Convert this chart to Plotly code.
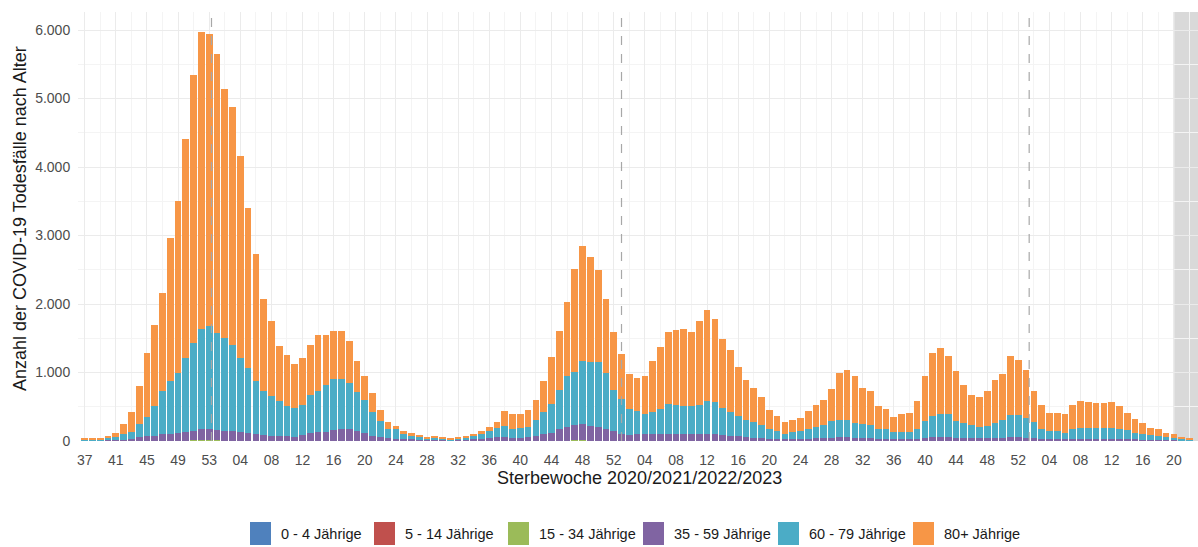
import plotly.graph_objects as go

# ---------------- categories (death weeks) ----------------
weeks_2020 = list(range(37, 54))
weeks_2021 = list(range(1, 53))
weeks_2022 = list(range(1, 53))
weeks_2023 = list(range(1, 23))
week_labels = [f"{w:02d}" for w in weeks_2020 + weeks_2021 + weeks_2022 + weeks_2023]
x_idx = list(range(len(week_labels)))

# ---------------- series values (deaths per week) ----------------
age_0_4 = [
    0, 0, 0, 0, 0, 0, 0, 0, 0, 0, 0, 0, 0, 0, 0, 1, 0,
    0, 0, 0, 0, 0, 0, 0, 0, 0, 0, 0, 0, 0, 0, 0, 0, 0, 0,
    0, 0, 0, 0, 0, 0, 0, 0, 0, 0, 0, 0, 0, 0, 0, 0, 0, 0, 0,
    0, 0, 0, 0, 0, 0, 0, 0, 0, 0, 1, 0, 0, 0, 0, 0, 0,
    0, 0, 0, 0, 0, 0, 0, 0, 0, 0, 0, 0, 0, 0, 0, 0, 0, 0,
    0, 0, 0, 0, 0, 0, 0, 0, 0, 0, 0, 0, 0, 0, 0, 0, 0, 0,
    0, 0, 0, 0, 0, 0, 0, 0, 0, 0, 0, 0, 0, 0, 0, 0, 0, 0,
    0, 0, 0, 0, 0, 0, 0, 0, 0, 0, 0, 0, 0, 0, 0, 0, 0, 0,
]
age_5_14 = [
    0, 0, 0, 0, 0, 0, 0, 0, 0, 0, 0, 0, 0, 0, 0, 0, 1,
    0, 0, 0, 0, 0, 0, 0, 0, 0, 0, 0, 0, 0, 0, 0, 0, 0, 0,
    0, 0, 0, 0, 0, 0, 0, 0, 0, 0, 0, 0, 0, 0, 0, 0, 0, 0, 0,
    0, 0, 0, 0, 0, 0, 0, 0, 0, 1, 0, 0, 0, 0, 0, 0, 0,
    0, 0, 0, 0, 0, 0, 0, 0, 0, 0, 0, 0, 0, 0, 0, 0, 0, 0,
    0, 0, 0, 0, 0, 0, 0, 0, 0, 0, 0, 0, 0, 0, 0, 0, 0, 0,
    0, 0, 1, 0, 0, 0, 0, 0, 0, 0, 0, 0, 0, 0, 0, 0, 0, 0,
    0, 0, 0, 0, 0, 0, 0, 0, 0, 0, 0, 0, 0, 0, 0, 0, 0, 0,
]
age_15_34 = [
    0, 0, 0, 1, 1, 1, 1, 2, 3, 3, 4, 5, 6, 7, 8, 8, 8,
    8, 7, 6, 5, 4, 4, 3, 3, 2, 2, 2, 3, 4, 4, 4, 5, 5, 5,
    4, 3, 2, 2, 1, 1, 1, 0, 0, 0, 0, 0, 0, 0, 1, 1, 1, 2, 2,
    2, 2, 2, 2, 3, 3, 4, 5, 6, 7, 7, 7, 6, 5, 4, 3, 3,
    3, 3, 3, 3, 3, 3, 3, 3, 3, 3, 3, 3, 2, 2, 2, 2, 1, 1,
    1, 1, 1, 1, 1, 1, 2, 2, 2, 2, 1, 1, 1, 1, 1, 1, 1, 1,
    1, 1, 2, 2, 2, 1, 1, 1, 1, 1, 1, 2, 2, 2, 2, 1, 1, 1,
    1, 1, 1, 1, 1, 1, 1, 1, 1, 1, 1, 1, 0, 0, 0, 0, 0, 0,
]
age_35_59 = [
    5, 6, 8, 9, 14, 19, 29, 53, 67, 72, 91, 95, 104, 128, 145, 160, 169,
    152, 143, 134, 120, 106, 91, 82, 77, 68, 68, 63, 82, 116, 131, 131, 155, 165, 172,
    149, 116, 78, 59, 46, 31, 24, 22, 20, 15, 18, 15, 12, 15, 17, 24, 31, 45, 59,
    59, 45, 45, 59, 67, 92, 115, 163, 201, 219, 233, 219, 201, 163, 139, 106, 87,
    92, 92, 92, 92, 97, 97, 92, 92, 97, 102, 97, 87, 78, 68, 53, 48, 44, 34,
    29, 24, 27, 29, 34, 39, 43, 48, 53, 53, 49, 44, 44, 34, 34, 29, 29, 29,
    34, 44, 53, 58, 53, 49, 44, 39, 39, 39, 44, 48, 53, 53, 48, 44, 34, 29,
    29, 27, 29, 31, 31, 29, 29, 29, 27, 24, 21, 17, 15, 14, 10, 8, 6, 4,
]
age_60_79 = [
    10, 14, 17, 30, 40, 75, 105, 200, 285, 435, 630, 780, 890, 1075, 1277, 1472, 1498,
    1415, 1355, 1255, 1088, 955, 785, 640, 575, 520, 447, 418, 445, 558, 600, 688, 750, 740, 671,
    564, 486, 346, 228, 135, 136, 70, 48, 41, 17, 29, 17, 13, 17, 29, 55, 63, 96, 131,
    165, 131, 145, 146, 243, 325, 426, 572, 743, 774, 920, 924, 943, 822, 607, 506, 370,
    340, 306, 325, 374, 442, 432, 412, 412, 432, 475, 466, 394, 340, 292, 248, 224, 195, 133,
    113, 80, 100, 113, 143, 167, 195, 239, 258, 248, 215, 210, 195, 143, 133, 98, 98, 98,
    133, 244, 307, 336, 341, 239, 220, 200, 167, 186, 220, 263, 331, 325, 288, 229, 133, 123,
    123, 91, 148, 160, 160, 155, 162, 162, 140, 135, 97, 87, 75, 66, 51, 39, 30, 18,
]
age_80_plus = [
    15, 20, 25, 40, 65, 160, 290, 555, 930, 1180, 1435, 2090, 2505, 3200, 3920, 4325, 4260,
    4070, 3630, 3485, 2952, 2335, 1853, 1352, 1092, 792, 744, 647, 683, 719, 807, 719, 701, 701, 607,
    446, 340, 276, 170, 92, 58, 48, 49, 19, 15, 14, 15, 7, 15, 14, 29, 48, 64, 82,
    209, 218, 209, 252, 292, 462, 677, 860, 1073, 1510, 1690, 1535, 1350, 1078, 836, 661, 524,
    486, 554, 753, 904, 1050, 1083, 1133, 1079, 1214, 1327, 1215, 1010, 914, 720, 583, 502, 404, 281,
    219, 175, 175, 195, 257, 325, 365, 472, 681, 739, 680, 521, 496, 329, 306, 225, 273, 283,
    412, 656, 923, 962, 850, 729, 559, 438, 437, 500, 622, 671, 851, 808, 695, 452, 364, 258,
    258, 277, 344, 389, 374, 371, 364, 379, 349, 251, 209, 160, 102, 97, 58, 48, 25, 14,
]

group_names = ["0 - 4 Jährige", "5 - 14 Jährige", "15 - 34 Jährige",
               "35 - 59 Jährige", "60 - 79 Jährige", "80+ Jährige"]
group_values = [age_0_4, age_5_14, age_15_34, age_35_59, age_60_79, age_80_plus]
group_colors = ["#4F81BD", "#C0504D", "#9BBB59", "#8064A2", "#4BACC6", "#F79646"]

for vals in group_values:
    assert len(vals) == len(week_labels), len(vals)

# year-change reference lines (in week-index units) and incomplete-data zone
year_change_x = [16.3, 69.0, 121.4]
incomplete_from = 140.05

# ---------------- layout geometry ----------------
W, H = 1198, 547
L, R, T, B = 78, 0, 12, 106
PW, PH = W - L - R, H - T - B
BOTTOM = H - B


def px_x(px):
    return (px - L) / PW


def px_y(py):
    return (BOTTOM - py) / PH


FONT = "Liberation Sans, Arial, Helvetica, sans-serif"

fig = go.Figure()
for name, vals, col in zip(group_names, group_values, group_colors):
    fig.add_trace(go.Bar(
        x=x_idx, y=vals, name=name, marker=dict(color=col, line=dict(width=0)),
        showlegend=False,
    ))

shapes = []
# grey zone for incomplete weeks
shapes.append(dict(type="rect", xref="x", yref="paper", x0=incomplete_from, x1=143.1,
                   y0=0, y1=1, fillcolor="#d9d9d9", line=dict(width=0), layer="between"))
for xv in year_change_x:
    shapes.append(dict(type="line", xref="x", yref="paper", x0=xv, x1=xv, y0=0, y1=1,
                       line=dict(color="#a8a8a8", width=1.2, dash="dash"), layer="above"))

annotations = []
# axis titles
annotations.append(dict(text="Anzahl der COVID-19 Todesfälle nach Alter", xref="paper", yref="paper",
                        x=px_x(20), y=px_y(219), textangle=-90, showarrow=False,
                        xanchor="center", yanchor="middle",
                        font=dict(family=FONT, size=18, color="#1a1a1a")))
annotations.append(dict(text="Sterbewoche 2020/2021/2022/2023", xref="paper", yref="paper",
                        x=px_x(639), y=px_y(478), showarrow=False,
                        xanchor="center", yanchor="middle",
                        font=dict(family=FONT, size=18, color="#1a1a1a")))

# legend (manual, ggplot-like keys)
key_left = [250, 374, 508, 643, 778, 913]
for kx, name, col in zip(key_left, group_names, group_colors):
    shapes.append(dict(type="rect", xref="paper", yref="paper",
                       x0=px_x(kx), x1=px_x(kx + 21), y0=px_y(545), y1=px_y(522),
                       fillcolor=col, line=dict(width=0)))
    annotations.append(dict(text=name, xref="paper", yref="paper", x=px_x(kx + 29), y=px_y(534),
                            xanchor="left", yanchor="middle", showarrow=False,
                            font=dict(family=FONT, size=14.5, color="#1a1a1a")))

fig.update_layout(
    width=W, height=H,
    margin=dict(l=L, r=R, t=T, b=B, pad=0),
    barmode="stack", bargap=0.14,
    plot_bgcolor="white", paper_bgcolor="white",
    separators=",.",
    font=dict(family=FONT, color="#4d4d4d"),
    shapes=shapes, annotations=annotations,
    showlegend=False,
    hovermode=False,
    xaxis=dict(
        range=[-0.86, 143.1], tickmode="array",
        tickvals=x_idx[::4], ticktext=week_labels[::4],
        showgrid=True, gridcolor="#ebebeb", gridwidth=1, zeroline=False,
        ticks="outside", ticklen=6, tickcolor="rgba(0,0,0,0)",
        tickfont=dict(family=FONT, size=14, color="#4d4d4d"),
        minor=dict(tickmode="array", tickvals=x_idx[2::4], showgrid=True,
                   gridcolor="#f4f4f4", gridwidth=1),
        showline=False,
    ),
    yaxis=dict(
        range=[0, 6263], tickmode="array", tickvals=[0, 1000, 2000, 3000, 4000, 5000, 6000],
        tickformat=",d",
        showgrid=True, gridcolor="#ebebeb", gridwidth=1, zeroline=False,
        ticks="outside", ticklen=4, tickcolor="rgba(0,0,0,0)",
        tickfont=dict(family=FONT, size=14, color="#4d4d4d"),
        minor=dict(tickmode="array", tickvals=[500, 1500, 2500, 3500, 4500, 5500],
                   showgrid=True, gridcolor="#f4f4f4", gridwidth=1),
        showline=False,
    ),
)

# remove the default page margin so the figure fills the 1198x547 window exactly
fig.write_html(
    "out.html",
    config={"displayModeBar": False},
    post_script="document.body.style.margin='0px'; document.body.style.overflow='hidden';",
)
